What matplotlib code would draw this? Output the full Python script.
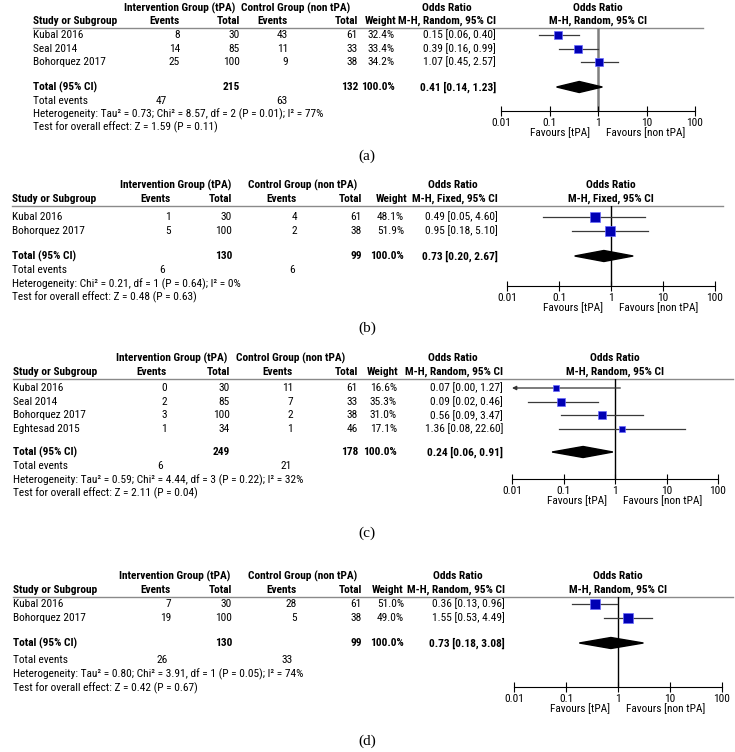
import matplotlib
matplotlib.use('Agg')
import matplotlib.pyplot as plt
import numpy as np
from matplotlib import font_manager

# look for a narrow sans face; RevMan output uses a condensed-looking font
entries = [(f.name, str(f.stretch)) for f in font_manager.fontManager.ttflist]
narrow_fam = None
for fam in ['Liberation Sans Narrow', 'Roboto Condensed', 'Open Sans Condensed',
            'Noto Sans', 'DejaVu Sans', 'Open Sans', 'Roboto']:
    for n, st in entries:
        if n == fam and ('condensed' in st or 'Narrow' in n or 'Condensed' in n):
            narrow_fam = fam
            break
    if narrow_fam:
        break

if narrow_fam:
    plt.rcParams['font.family'] = [narrow_fam, 'DejaVu Sans']
    plt.rcParams['font.stretch'] = 'condensed'
    FS = 8.2
else:
    plt.rcParams['font.family'] = ['Roboto', 'DejaVu Sans']
    FS = 7.8
plt.rcParams['font.size'] = FS

# ---------------- data (a) ----------------
a_study = ['Kubal 2016', 'Seal 2014', 'Bohorquez 2017']
a_ev_t = [8, 14, 25]
a_tot_t = [30, 85, 100]
a_ev_c = [43, 11, 9]
a_tot_c = [61, 33, 38]
a_weight = [32.4, 33.4, 34.2]
a_or = [0.15, 0.39, 1.07]
a_lo = [0.06, 0.16, 0.45]
a_hi = [0.40, 0.99, 2.57]
a_totals = [215, 132, 47, 63]          # total tPA, total non tPA, events tPA, events non tPA
a_pooled = [0.41, 0.14, 1.23]
a_het = 'Heterogeneity: Tau² = 0.73; Chi² = 8.57, df = 2 (P = 0.01); I² = 77%'
a_test = 'Test for overall effect: Z = 1.59 (P = 0.11)'
a_method = 'M-H, Random, 95% CI'

# ---------------- data (b) ----------------
b_study = ['Kubal 2016', 'Bohorquez 2017']
b_ev_t = [1, 5]
b_tot_t = [30, 100]
b_ev_c = [4, 2]
b_tot_c = [61, 38]
b_weight = [48.1, 51.9]
b_or = [0.49, 0.95]
b_lo = [0.05, 0.18]
b_hi = [4.60, 5.10]
b_totals = [130, 99, 6, 6]
b_pooled = [0.73, 0.20, 2.67]
b_het = 'Heterogeneity: Chi² = 0.21, df = 1 (P = 0.64); I² = 0%'
b_test = 'Test for overall effect: Z = 0.48 (P = 0.63)'
b_method = 'M-H, Fixed, 95% CI'

# ---------------- data (c) ----------------
c_study = ['Kubal 2016', 'Seal 2014', 'Bohorquez 2017', 'Eghtesad 2015']
c_ev_t = [0, 2, 3, 1]
c_tot_t = [30, 85, 100, 34]
c_ev_c = [11, 7, 2, 1]
c_tot_c = [61, 33, 38, 46]
c_weight = [16.6, 35.3, 31.0, 17.1]
c_or = [0.07, 0.09, 0.56, 1.36]
c_lo = [0.00, 0.02, 0.09, 0.08]
c_hi = [1.27, 0.46, 3.47, 22.60]
c_totals = [249, 178, 6, 21]
c_pooled = [0.24, 0.06, 0.91]
c_het = 'Heterogeneity: Tau² = 0.59; Chi² = 4.44, df = 3 (P = 0.22); I² = 32%'
c_test = 'Test for overall effect: Z = 2.11 (P = 0.04)'
c_method = 'M-H, Random, 95% CI'

# ---------------- data (d) ----------------
d_study = ['Kubal 2016', 'Bohorquez 2017']
d_ev_t = [7, 19]
d_tot_t = [30, 100]
d_ev_c = [28, 5]
d_tot_c = [61, 38]
d_weight = [51.0, 49.0]
d_or = [0.36, 1.55]
d_lo = [0.13, 0.53]
d_hi = [0.96, 4.49]
d_totals = [130, 99, 26, 33]
d_pooled = [0.73, 0.18, 3.08]
d_het = 'Heterogeneity: Tau² = 0.80; Chi² = 3.91, df = 1 (P = 0.05); I² = 74%'
d_test = 'Test for overall effect: Z = 0.42 (P = 0.67)'
d_method = 'M-H, Random, 95% CI'

# ---------------- layout (pixels) ----------------
W, H = 735, 752
lay_a = dict(sx=33, evt=180, tott=240, evc=288, totc=358, w=395, whdr=396, orx=496,
             int_cx=180, ctl_cx=296, orhdr_cx=447, axL=501, axR=695, lx1=703,
             tev_t=167, tev_c=288, hdr1=8, hdr2=21, line=27.5, row0=35, step=13.5,
             total=87, events=101, het=114, test=127, axis=111, label=156,
             vcol='#7f7f7f', vlw=1.8)
lay_b = dict(sx=12, evt=171, tott=232, evc=297, totc=362, w=404, whdr=407, orx=498,
             int_cx=176, ctl_cx=303, orhdr_cx=453, axL=507, axR=715, lx1=723,
             tev_t=165, tev_c=295, hdr1=185, hdr2=199, line=206, row0=217, step=14,
             total=256, events=270, het=284, test=297, axis=286, label=328,
             vcol='black', vlw=1.0)
lay_c = dict(sx=13, evt=167, tott=230, evc=293, totc=358, w=397, whdr=398, orx=503,
             int_cx=172, ctl_cx=291, orhdr_cx=453, axL=512, axR=718, lx1=733,
             tev_t=163, tev_c=292, hdr1=358, hdr2=372, line=379, row0=388, step=13.6,
             total=452, events=466, het=480, test=493, axis=479, label=533,
             vcol='black', vlw=1.0)
lay_d = dict(sx=13, evt=171, tott=232, evc=297, totc=362, w=404, whdr=403, orx=505,
             int_cx=175, ctl_cx=303, orhdr_cx=458, axL=514, axR=722, lx1=733,
             tev_t=168, tev_c=293, hdr1=576, hdr2=590, line=597, row0=604, step=14,
             total=643, events=660, het=674, test=688, axis=687, label=741,
             vcol='black', vlw=1.0)

fig = plt.figure(figsize=(W / 100, H / 100), dpi=100)
bg = fig.add_axes([0, 0, 1, 1])
bg.set_xlim(0, W)
bg.set_ylim(H, 0)
bg.axis('off')


def txt(x, y, s, ha='left', bold=False):
    bg.text(x, y, s, ha=ha, va='center', fontweight='bold' if bold else 'normal')


def draw_panel(study, ev_t, tot_t, ev_c, tot_c, weight, orr, lo, hi, totals, pooled,
               het, test, method, tag, L):
    x1 = (L['axL'] + L['axR']) / 2
    # header
    txt(L['int_cx'], L['hdr1'], 'Intervention Group (tPA)', 'center', True)
    txt(L['ctl_cx'], L['hdr1'], 'Control Group (non tPA)', 'center', True)
    txt(L['orhdr_cx'], L['hdr1'], 'Odds Ratio', 'center', True)
    txt(x1, L['hdr1'], 'Odds Ratio', 'center', True)
    txt(L['sx'], L['hdr2'], 'Study or Subgroup', 'left', True)
    txt(L['evt'], L['hdr2'], 'Events', 'right', True)
    txt(L['tott'], L['hdr2'], 'Total', 'right', True)
    txt(L['evc'], L['hdr2'], 'Events', 'right', True)
    txt(L['totc'], L['hdr2'], 'Total', 'right', True)
    txt(L['whdr'], L['hdr2'], 'Weight', 'right', True)
    txt(L['orx'], L['hdr2'], method, 'right', True)
    txt(x1, L['hdr2'], method, 'center', True)
    bg.plot([L['sx'], L['lx1']], [L['line'], L['line']], color='#8a8a8a', lw=1.0)

    # study rows
    rows = L['row0'] + L['step'] * np.arange(len(study))
    for y, s, a, b, c, d, w, o, l, h in zip(rows, study, ev_t, tot_t, ev_c, tot_c,
                                             weight, orr, lo, hi):
        txt(L['sx'], y, s)
        txt(L['evt'], y, str(a), 'right')
        txt(L['tott'], y, str(b), 'right')
        txt(L['evc'], y, str(c), 'right')
        txt(L['totc'], y, str(d), 'right')
        txt(L['w'], y, f'{w:.1f}%', 'right')
        txt(L['orx'], y, f'{o:.2f} [{l:.2f}, {h:.2f}]', 'right')

    # totals
    txt(L['sx'], L['total'], 'Total (95% CI)', 'left', True)
    txt(L['tott'], L['total'], str(totals[0]), 'right', True)
    txt(L['totc'], L['total'], str(totals[1]), 'right', True)
    txt(L['w'], L['total'], '100.0%', 'right', True)
    txt(L['orx'], L['total'], f'{pooled[0]:.2f} [{pooled[1]:.2f}, {pooled[2]:.2f}]', 'right', True)
    txt(L['sx'], L['events'], 'Total events')
    txt(L['tev_t'], L['events'], str(totals[2]), 'right')
    txt(L['tev_c'], L['events'], str(totals[3]), 'right')
    txt(L['sx'], L['het'], het)
    txt(L['sx'], L['test'], test)

    # forest plot
    ax = fig.add_axes([L['axL'] / W, 1 - L['axis'] / H,
                       (L['axR'] - L['axL']) / W, (L['axis'] - L['line']) / H])
    ax.set_xscale('log')
    ax.set_xlim(0.01, 100)
    ax.set_ylim(L['axis'], L['line'])
    ax.patch.set_alpha(0)
    for sp in ['top', 'left', 'right']:
        ax.spines[sp].set_visible(False)
    ax.spines['bottom'].set_linewidth(0.8)
    ax.set_yticks([])
    ax.set_xticks([0.01, 0.1, 1, 10, 100])
    ax.set_xticklabels(['0.01', '0.1', '1', '10', '100'])
    ax.minorticks_off()
    ax.tick_params(axis='x', direction='inout', length=7, width=0.8, pad=1.5, labelsize=FS)
    ax.axvline(1, color=L['vcol'], lw=L['vlw'], zorder=1)

    for y, w, o, l, h in zip(rows, weight, orr, lo, hi):
        if l < 0.01:
            ax.annotate('', xy=(0.01, y), xytext=(h, y), annotation_clip=False,
                        arrowprops=dict(arrowstyle='-|>', color='#333333', lw=0.9,
                                        mutation_scale=6, shrinkA=0, shrinkB=0))
        else:
            ax.plot([l, h], [y, y], color='#3a3a3a', lw=0.9, zorder=2)
        ax.plot(o, y, marker='s', ms=np.sqrt(w), mfc='#0000b4', mec='#6a6aff',
                mew=0.5, zorder=3)

    p, plo, phi = pooled
    yt = L['total']
    ax.fill([plo, p, phi, p], [yt, yt - 5.5, yt, yt + 5.5], color='black', zorder=3)

    ax.annotate('Favours [tPA]', xy=(1, 0), xycoords=('data', 'axes fraction'),
                xytext=(-5.5, -15.5), textcoords='offset points', ha='right', va='center')
    ax.annotate('Favours [non tPA]', xy=(1, 0), xycoords=('data', 'axes fraction'),
                xytext=(5.5, -15.5), textcoords='offset points', ha='left', va='center')

    bg.text(367, L['label'], f'({tag})', ha='center', va='center',
            family='Liberation Serif', fontsize=11, fontstretch='normal')


draw_panel(a_study, a_ev_t, a_tot_t, a_ev_c, a_tot_c, a_weight, a_or, a_lo, a_hi,
           a_totals, a_pooled, a_het, a_test, a_method, 'a', lay_a)
draw_panel(b_study, b_ev_t, b_tot_t, b_ev_c, b_tot_c, b_weight, b_or, b_lo, b_hi,
           b_totals, b_pooled, b_het, b_test, b_method, 'b', lay_b)
draw_panel(c_study, c_ev_t, c_tot_t, c_ev_c, c_tot_c, c_weight, c_or, c_lo, c_hi,
           c_totals, c_pooled, c_het, c_test, c_method, 'c', lay_c)
draw_panel(d_study, d_ev_t, d_tot_t, d_ev_c, d_tot_c, d_weight, d_or, d_lo, d_hi,
           d_totals, d_pooled, d_het, d_test, d_method, 'd', lay_d)

fig.savefig('out.png', dpi=100)
